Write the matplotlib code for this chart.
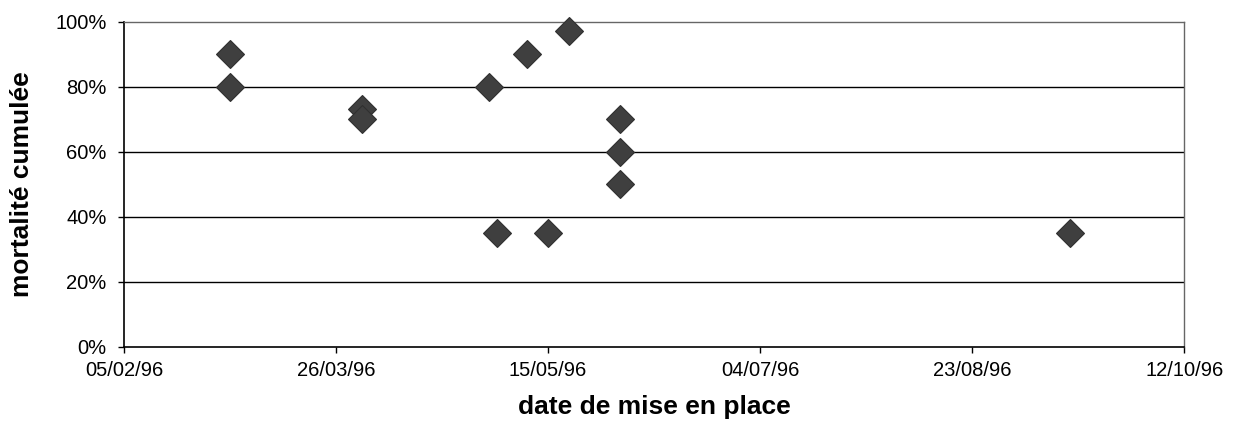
import datetime as dt

import matplotlib
matplotlib.use("Agg")
import matplotlib.pyplot as plt
import matplotlib.dates as mdates
from matplotlib.ticker import FixedLocator, FuncFormatter


# date de mise en place / mortalité cumulée (%)
dates = [
    "1996-03-01", "1996-03-01",
    "1996-04-01", "1996-04-01",
    "1996-05-01", "1996-05-03", "1996-05-10", "1996-05-15", "1996-05-20",
    "1996-06-01", "1996-06-01", "1996-06-01",
    "1996-09-15",
]
mortality = [
    90, 80,
    73, 70,
    80, 35, 90, 35, 97,
    70, 60, 50,
    35,
]

x_start = dt.datetime(1996, 2, 5)
x_end = dt.datetime(1996, 10, 12)
tick_step_days = 50
y_ticks = [0, 20, 40, 60, 80, 100]

W, H = 1233, 430

plt.rcParams.update({
    "font.family": ["Liberation Sans", "DejaVu Sans"],
    "font.size": 14,
})

fig = plt.figure(figsize=(W / 100, H / 100), dpi=100)
left, right, top, bottom = 124, 1184.3, 21.7, 346.7
ax = fig.add_axes([left / W, 1 - bottom / H, (right - left) / W, (bottom - top) / H])

x = [dt.datetime.strptime(d, "%Y-%m-%d") for d in dates]
ax.plot(x, mortality, linestyle="none", marker="D", markersize=14.5,
        markerfacecolor="#3f3f3f", markeredgecolor="#303030",
        markeredgewidth=0.8, zorder=3, clip_on=False)

ax.set_xlim(x_start, x_end)
ax.set_ylim(0, 100)

ticks = [x_start + dt.timedelta(days=tick_step_days * i) for i in range(6)]
ax.xaxis.set_major_locator(FixedLocator(mdates.date2num(ticks)))
ax.xaxis.set_major_formatter(mdates.DateFormatter("%d/%m/%y"))
ax.set_yticks(y_ticks)
ax.yaxis.set_major_formatter(FuncFormatter(lambda v, _: f"{v:.0f}%"))

for y in y_ticks[1:-1]:
    ax.axhline(y, color="black", linewidth=1.0, zorder=1)

for side in ("left", "bottom"):
    ax.spines[side].set_color("black")
    ax.spines[side].set_linewidth(1.2)
for side in ("top", "right"):
    ax.spines[side].set_color("#666666")
    ax.spines[side].set_linewidth(1.0)
    ax.spines[side].set_linestyle((0, (1.5, 1)))

ax.tick_params(axis="both", direction="out", length=4.5, width=1, colors="black",
               labelsize=14.5)
ax.tick_params(axis="y", pad=8)
ax.tick_params(axis="x", pad=6)

fig.text((left + right) / 2 / W, 1 - 395 / H, "date de mise en place",
         ha="center", va="top", fontsize=19, fontweight="bold")
fig.text(22 / W, 1 - (top + bottom) / 2 / H, "mortalité cumulée",
         ha="center", va="center", rotation=90, fontsize=19, fontweight="bold")

fig.savefig("out.png", dpi=100, facecolor="white")
